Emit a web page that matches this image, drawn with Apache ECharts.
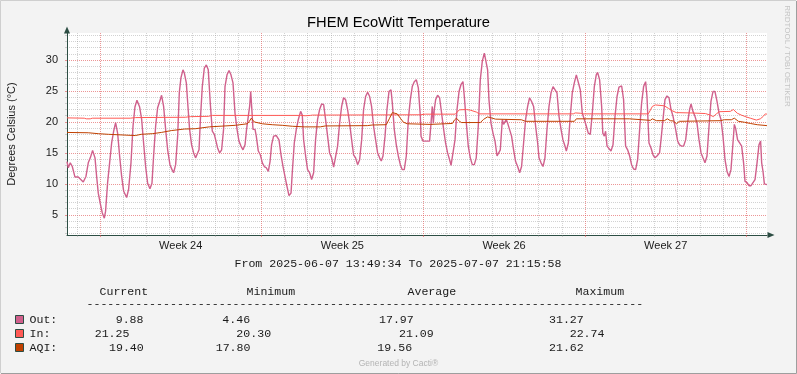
<!DOCTYPE html>
<html><head><meta charset="utf-8">
<script src="https://cdn.jsdelivr.net/npm/echarts@6/dist/echarts.min.js"></script>
<style>html,body{margin:0;padding:0;background:#f3f3f3}#c{width:797px;height:374px}</style>
</head><body><div id="c"></div>
<script>
// ---------------- data ----------------
const startTime = [2025, 6, 7, 13, 49, 34];
const endTime = [2025, 7, 7, 21, 15, 58];
const firstMidnight = [2025, 6, 8, 0, 0, 0];
const periodText = 'From 2025-06-07 13:49:34 To 2025-07-07 21:15:58';
const titleText = 'FHEM EcoWitt Temperature';
const yAxisName = 'Degrees Celsius (°C)';
const yTicks = [5, 10, 15, 20, 25, 30];
const weekLabels = ['Week 24', 'Week 25', 'Week 26', 'Week 27'];
const weekMondays = [[2025, 6, 9], [2025, 6, 16], [2025, 6, 23], [2025, 6, 30], [2025, 7, 7]];
const seriesNames = ['Out', 'In', 'AQI'];
const seriesColors = ['#d0608c', '#ff5a55', '#c04000'];

// [hours since start, °C]
const outPoints = [[0,13.6],[1.4,12.6],[3.4,13.4],[5.5,12.8],[8.3,11.1],[11.7,11.1],[13.5,11.2],[16.9,10.3],[19.7,11.2],[22.1,13.4],[24.2,14.2],[26.6,15.4],[29.1,14.2],[30.8,11.2],[32.5,8.5],[34.6,6.8],[36.7,5.3],[38.8,4.46],[40.1,5.6],[42.2,10.2],[44.3,13.4],[46.4,16.6],[48.5,18.5],[50.5,19.9],[52.6,18.2],[54.7,14.5],[56.8,11.2],[58.9,8.8],[62.0,7.8],[64.0,9.1],[66.5,13.4],[68.6,19.3],[70.6,22.4],[72.7,23.5],[75.5,22.4],[77.6,20.4],[79.6,16.6],[81.7,12.8],[83.8,10.1],[86.2,9.2],[88.3,10.1],[90.0,14.5],[92.1,19.3],[94.2,22.3],[96.3,23.3],[98.3,24.3],[100.4,22.5],[102.5,18.8],[104.6,15.5],[107.0,13.1],[109.1,12.3],[110.8,11.8],[112.9,13.1],[115.0,17.7],[116.7,24.7],[118.4,27.1],[120.5,28.4],
[121.9,27.9],[124.0,26.3],[125.7,22.5],[127.4,18.8],[129.5,16.3],[131.6,15.0],[133.6,14.2],[135.4,13.9],[137.2,15.5],[138.8,20.9],[140.6,25.7],[142.7,28.7],[144.8,29.2],[146.8,28.4],[148.9,23.0],[151.0,18.5],[153.1,18.0],[154.5,17.1],[156.5,15.8],[158.6,15.0],[160.7,15.5],[162.7,18.8],[164.2,25.7],[166.3,27.6],[168.4,28.3],[170.4,27.6],[172.5,26.3],[174.6,21.4],[176.7,18.8],[178.7,16.9],[180.8,16.1],[182.9,15.5],[185.0,16.3],[186.6,18.8],[188.4,20.9],[189.8,22.5],[190.9,24.9],[191.9,22.5],[193.3,18.8],[195.4,18.8],[196.7,17.7],[198.8,15.3],[200.9,14.7],[203.0,13.4],[205.0,12.8],[207.1,12.6],[209.2,12.0],[211.0,13.6],[212.6,16.3],[214.7,17.7],[217.5,17.8],[220.3,17.1],[222.4,14.7],[224.5,12.8],[226.5,11.2],[228.6,9.6],[230.7,8.1],[232.8,8.5],[234.1,11.8],[236.2,16.6],[238.3,18.8],[240.4,20.4],[242.8,21.7],[244.5,21.1],
[245.9,17.1],[248.0,14.5],[250.0,12.3],[252.1,11.8],[254.2,10.7],[256.3,11.8],[258.3,17.1],[260.4,20.4],[262.5,22.0],[264.6,22.9],[266.7,22.8],[268.7,20.4],[270.8,17.7],[272.9,15.0],[275.0,14.2],[277.1,12.7],[279.1,12.8],[281.2,16.1],[283.3,19.8],[285.4,22.5],[287.4,23.9],[289.5,23.6],[291.6,22.0],[293.7,19.8],[295.8,17.1],[297.8,14.7],[299.9,14.2],[302.0,13.1],[304.1,13.9],[306.2,17.1],[308.2,22.0],[310.3,24.1],[312.4,24.8],[314.5,24.1],[316.5,22.5],[318.6,19.3],[320.7,17.1],[322.8,15.0],[324.9,14.2],[326.6,13.7],[328.4,14.5],[330.5,17.7],[332.5,22.0],[334.6,24.9],[336.7,25.2],[338.1,23.0],[340.1,18.8],[342.2,16.3],[344.3,14.5],[346.4,13.1],[348.4,12.3],[350.5,12.3],[352.6,14.5],[354.7,20.4],[356.8,23.6],[358.8,25.7],[360.9,26.5],[363.0,26.8],[365.1,25.5],[367.2,20.9],
[367.9,17.7],[370.0,16.9],[372.0,16.6],[374.1,16.9],[376.8,16.9],[378.3,19.8],[379.6,22.5],[380.7,19.8],[381.7,22.0],[383.1,23.6],[385.1,24.3],[387.2,23.9],[389.3,21.4],[391.4,18.8],[393.4,16.6],[395.5,15.0],[397.6,13.9],[399.1,13.0],[401.1,13.1],[403.2,17.1],[405.3,22.0],[407.4,24.9],[409.4,26.0],[411.5,26.5],[412.9,24.1],[415.0,19.8],[417.0,16.1],[419.1,14.2],[421.2,13.1],[423.3,13.1],[425.3,14.2],[427.4,19.3],[429.5,26.8],[431.6,29.8],[433.7,31.1],[435.7,31.27],[437.1,28.4],[438.5,23.6],[440.6,19.8],[442.7,18.2],[444.8,16.9],[446.9,14.5],[448.9,14.5],[450.3,15.5],[452.4,20.4],[453.7,19.6],[455.2,19.3],[456.5,20.4],[457.9,19.8],[459.9,19.6],[462.0,17.7],[464.1,15.5],[466.2,13.6],[468.3,12.8],[470.4,11.8],[472.4,12.8],[474.5,16.6],[476.6,20.4],[478.7,22.5],[480.7,23.9],[482.8,23.3],[484.9,22.5],[487.0,19.3],[489.1,16.6],
[490.5,14.2],[492.6,13.4],[494.7,12.8],[496.7,14.2],[498.8,18.8],[500.9,22.5],[503.0,24.7],[505.1,25.7],[507.1,25.7],[509.2,24.7],[511.3,20.9],[513.4,18.8],[515.4,17.1],[517.5,16.1],[518.9,15.3],[521.0,16.6],[523.0,20.9],[525.1,24.7],[527.2,26.3],[529.3,27.6],[531.3,27.4],[533.4,25.2],[535.5,21.4],[537.6,20.4],[539.7,19.3],[541.7,18.2],[543.8,18.0],[545.9,21.4],[548.0,25.7],[550.0,27.6],[551.4,28.0],[553.5,26.8],[555.6,22.5],[556.8,18.2],[558.4,17.7],[559.7,18.5],[561.2,16.1],[563.2,15.8],[565.3,15.3],[567.4,16.3],[569.5,20.9],[571.6,24.1],[573.6,25.6],[576.4,25.8],[578.4,23.6],[580.5,16.1],[582.6,15.5],[584.7,14.5],[586.7,13.1],[588.8,12.4],[590.9,12.3],[593.0,13.9],[595.1,18.8],[597.1,23.0],[599.2,25.7],[601.3,26.5],[602.7,24.1],[604.8,16.6],[606.9,15.8],[609.0,14.7],[611.0,14.2],[613.1,14.5],
[615.8,15.0],[617.3,17.1],[619.4,20.4],[621.4,23.6],[623.5,24.2],[625.6,23.9],[627.7,22.0],[629.8,20.9],[632.5,18.8],[634.6,16.9],[636.6,16.3],[638.7,16.1],[640.8,16.1],[642.9,17.1],[644.9,19.8],[647.0,22.0],[648.5,22.9],[650.5,21.7],[652.6,20.9],[654.7,19.8],[656.8,17.1],[658.9,15.0],[660.9,14.2],[663.0,13.4],[665.1,14.5],[667.2,19.3],[669.2,23.3],[671.3,24.9],[673.4,24.9],[675.5,23.3],[677.6,21.4],[679.6,20.4],[681.7,17.7],[683.8,13.9],[685.9,12.0],[688.0,11.2],[690.0,12.3],[692.1,16.6],[693.5,19.6],[694.8,19.0],[696.9,17.1],[699.0,16.6],[701.1,16.1],[703.1,13.4],[704.6,10.4],[706.7,10.2],[708.7,9.7],[710.8,9.7],[712.9,10.2],[715.0,10.7],[717.1,13.4],[719.1,16.3],[720.8,16.9],[721.9,13.4],[723.3,12.0],[724.7,10.0],[726.0,9.88],[727.4,9.88]];

const inPoints = [[0,20.65],[18.0,20.6],[20.1,20.5],[24.2,20.5],[26.3,20.6],[65.8,20.6],[71.0,20.7],[122.9,20.75],[128.1,20.85],[146.8,20.9],[151.0,21.05],[242.5,21.05],[247.6,21.0],[252.8,21.05],[254.9,21.1],[367.1,21.15],[372.3,21.25],[403.5,21.25],[407.7,21.95],[415.0,22.0],[419.1,21.9],[425.3,21.6],[428.4,21.3],[526.1,21.3],[528.2,21.45],[533.4,21.4],[535.5,21.3],[604.1,21.3],[608.3,22.5],[611.4,22.74],[620.7,22.6],[624.9,22.2],[629.0,21.8],[633.2,21.5],[647.8,21.45],[663.4,21.35],[668.5,21.1],[671.7,20.85],[674.8,21.3],[677.9,21.65],[689.3,21.7],[692.5,22.0],[696.6,21.4],[700.8,21.1],[706.0,20.8],[710.1,20.6],[716.4,20.3],[720.5,20.5],[723.6,20.9],[725.7,21.3],[727.4,21.25]];

const aqiPoints = [[0,18.3],[22.1,18.25],[32.5,18.1],[42.9,18.0],[71.0,17.8],[77.2,18.0],[88.6,18.1],[98.0,18.3],[108.4,18.6],[121.9,18.85],[133.3,18.9],[147.9,19.2],[174.9,19.45],[187.4,19.7],[189.5,20.1],[191.5,20.6],[194.6,20.0],[202.9,19.7],[213.3,19.55],[223.7,19.45],[234.1,19.3],[246.6,19.2],[263.2,19.2],[268.4,19.35],[312.1,19.4],[317.3,19.5],[331.8,19.55],[334.9,20.5],[338.1,21.5],[340.1,21.62],[343.2,21.3],[346.4,20.6],[349.6,19.95],[353.7,19.7],[377.6,19.6],[400.5,19.75],[402.6,20.3],[404.7,20.6],[407.8,20.1],[409.9,19.9],[429.6,19.9],[432.8,20.4],[436.9,20.8],[440.0,20.7],[445.2,20.45],[472.2,20.35],[476.4,20.1],[527.3,20.1],[529.3,20.5],[584.4,20.5],[586.4,20.25],[606.2,20.25],[608.3,20.5],[612.5,20.2],[620.8,20.2],[623.9,20.5],[627.0,20.2],[630.2,20.15],[633.3,19.7],[636.4,20.1],[678.9,20.2],[683.1,20.35],[690.4,20.35],[693.5,20.6],[697.7,20.1],[703.9,19.95],[710.1,19.75],[717.4,19.55],[727.4,19.4]];

const legendHeaders = ['Current', 'Minimum', 'Average', 'Maximum'];
const currentVals = ['9.88', '21.25', '19.40'];
const minimumVals = ['4.46', '20.30', '17.80'];
const averageVals = ['17.97', '21.09', '19.56'];
const maximumVals = ['31.27', '22.74', '21.62'];
const footerText = 'Generated by Cacti®';
const watermarkText = 'RRDTOOL / TOBI OETIKER';

// ---------------- derived ----------------
const ms = a => Date.UTC(a[0], a[1] - 1, a[2], a[3] || 0, a[4] || 0, a[5] || 0);
const t0 = ms(startTime);
const totalH = (ms(endTime) - t0) / 3.6e6;
const weekH = weekMondays.map(d => (ms(d) - t0) / 3.6e6);
const weekMidH = weekLabels.map((_, i) => weekH[i] + 84);
const dayH = [];
for (let h = (ms(firstMidnight) - t0) / 3.6e6; h < totalH; h += 24) {
  if (!weekH.some(w => Math.abs(w - h) < 0.01)) dayH.push(h);
}
const yMinor = [];
for (let v = 2; v <= 34; v++) if (v % 5 !== 0) yMinor.push(v);

// ---------------- styles ----------------
const AXIS = '#2c4d43';
const MINOR = 'rgba(143,143,143,0.4)';
const MAJOR = 'rgba(224,80,80,0.6)';
const SANS = '"Liberation Sans", Arial, sans-serif';
const MONO = '"Liberation Mono", "DejaVu Sans Mono", monospace';
const Y_MIN = 1.75, Y_MAX = 34.35;

const chart = echarts.init(document.getElementById('c'), null, { renderer: 'canvas' });

const legendEls = [];
const monoStyle = (text, x, y, align) => ({
  type: 'text', x, y, silent: true,
  style: { text, fill: '#1a1a1a', fontSize: 11.6, fontFamily: MONO, align: align || 'left', verticalAlign: 'middle' }
});
legendEls.push(monoStyle(periodText, 398, 263.5, 'center'));
const headerX = [99.5, 246.5, 407.5, 575.5];
legendHeaders.forEach((h, i) => legendEls.push(monoStyle(h, headerX[i], 291.5)));
legendEls.push(monoStyle('-'.repeat(80), 86.5, 304));
const rowY = [319.5, 333.5, 347.5];
const valX = [
  [115.7, 222.3, 379, 549],
  [94.7, 236.3, 399, 569.7],
  [109, 215.7, 377.3, 549]
];
seriesNames.forEach((n, r) => {
  legendEls.push({
    type: 'rect', silent: true,
    shape: { x: 15.5, y: rowY[r] - 4, width: 8, height: 8 },
    style: { fill: seriesColors[r], stroke: AXIS, lineWidth: 1 }
  });
  legendEls.push(monoStyle(n + ':', 29.5, rowY[r]));
  [currentVals, minimumVals, averageVals, maximumVals].forEach((arr, c) => {
    legendEls.push(monoStyle(arr[r], valX[r][c], rowY[r]));
  });
});

const option = {
  backgroundColor: '#f3f3f3',
  animation: false,
  title: {
    text: titleText, left: 'center', top: 15, padding: 0,
    textStyle: { fontFamily: SANS, fontSize: 14.7, fontWeight: 'normal', color: '#000' }
  },
  grid: {
    left: 67, top: 33, width: 700, height: 202,
    outerBoundsMode: 'none', containLabel: false,
    show: true, backgroundColor: '#ffffff', borderWidth: 0
  },
  xAxis: [
    {
      type: 'value', min: 0, max: totalH,
      axisLine: { show: true, lineStyle: { color: AXIS, width: 1 }, symbol: ['none', 'triangle'], symbolSize: [6, 7], symbolOffset: [0, 4] },
      axisTick: { show: true, customValues: dayH, length: 2, lineStyle: { color: MINOR } },
      axisLabel: { show: false },
      splitLine: { show: true, lineStyle: { color: MINOR, type: [1, 1], width: 1 } }
    },
    {
      type: 'value', min: 0, max: totalH, position: 'bottom',
      axisLine: { show: false },
      axisTick: { show: true, customValues: weekH, length: 2, lineStyle: { color: MAJOR } },
      axisLabel: {
        show: true, customValues: weekMidH, margin: 5,
        fontFamily: SANS, fontSize: 11, color: '#1a1a1a',
        formatter: v => {
          let best = 0;
          weekMidH.forEach((m, i) => { if (Math.abs(m - v) < Math.abs(weekMidH[best] - v)) best = i; });
          return weekLabels[best];
        }
      },
      splitLine: { show: true, lineStyle: { color: MAJOR, type: [1, 1], width: 1 } }
    }
  ],
  yAxis: [
    {
      type: 'value', min: Y_MIN, max: Y_MAX,
      name: yAxisName, nameLocation: 'middle', nameGap: 50,
      nameTextStyle: { fontFamily: SANS, fontSize: 11, color: '#1a1a1a' },
      axisLine: { show: true, lineStyle: { color: AXIS, width: 1 }, symbol: ['none', 'triangle'], symbolSize: [6, 7], symbolOffset: [0, 3] },
      axisTick: { show: true, customValues: yTicks, length: 2, lineStyle: { color: MAJOR } },
      axisLabel: { show: true, customValues: yTicks, margin: 9, fontFamily: SANS, fontSize: 11, color: '#1a1a1a' },
      splitLine: { show: true, lineStyle: { color: MAJOR, type: [1, 1], width: 1 } }
    },
    {
      type: 'value', min: Y_MIN, max: Y_MAX, position: 'left',
      axisLine: { show: false },
      axisTick: { show: true, customValues: yMinor, length: 2, lineStyle: { color: MINOR } },
      axisLabel: { show: false },
      splitLine: { show: true, lineStyle: { color: MINOR, type: [1, 1], width: 1 } }
    }
  ],
  series: [outPoints, inPoints, aqiPoints].map((pts, i) => ({
    type: 'line', name: seriesNames[i], data: pts,
    xAxisIndex: 0, yAxisIndex: 0,
    showSymbol: false, symbol: 'none', silent: true,
    lineStyle: { color: seriesColors[i], width: i === 0 ? 1.4 : 1 },
    itemStyle: { color: seriesColors[i] },
    z: 3 + i
  })),
  graphic: [
    { type: 'polyline', silent: true, shape: { points: [[0.5, 373], [0.5, 0.5], [796, 0.5]] }, style: { stroke: '#cfcfcf', fill: null, lineWidth: 1 } },
    { type: 'polyline', silent: true, shape: { points: [[1, 373.5], [796.5, 373.5], [796.5, 1]] }, style: { stroke: '#9e9e9e', fill: null, lineWidth: 1 } },
    {
      type: 'text', silent: true, x: 787.5, y: 56, rotation: -Math.PI / 2,
      style: { text: watermarkText, fill: '#c4c4c4', fontSize: 8, fontFamily: SANS, align: 'center', verticalAlign: 'middle' }
    },
    {
      type: 'text', silent: true, x: 398.5, y: 363.5,
      style: { text: footerText, fill: '#b4b4b4', fontSize: 8.5, fontFamily: SANS, align: 'center', verticalAlign: 'middle' }
    }
  ].concat(legendEls)
};
chart.setOption(option);
</script>
</body></html>
